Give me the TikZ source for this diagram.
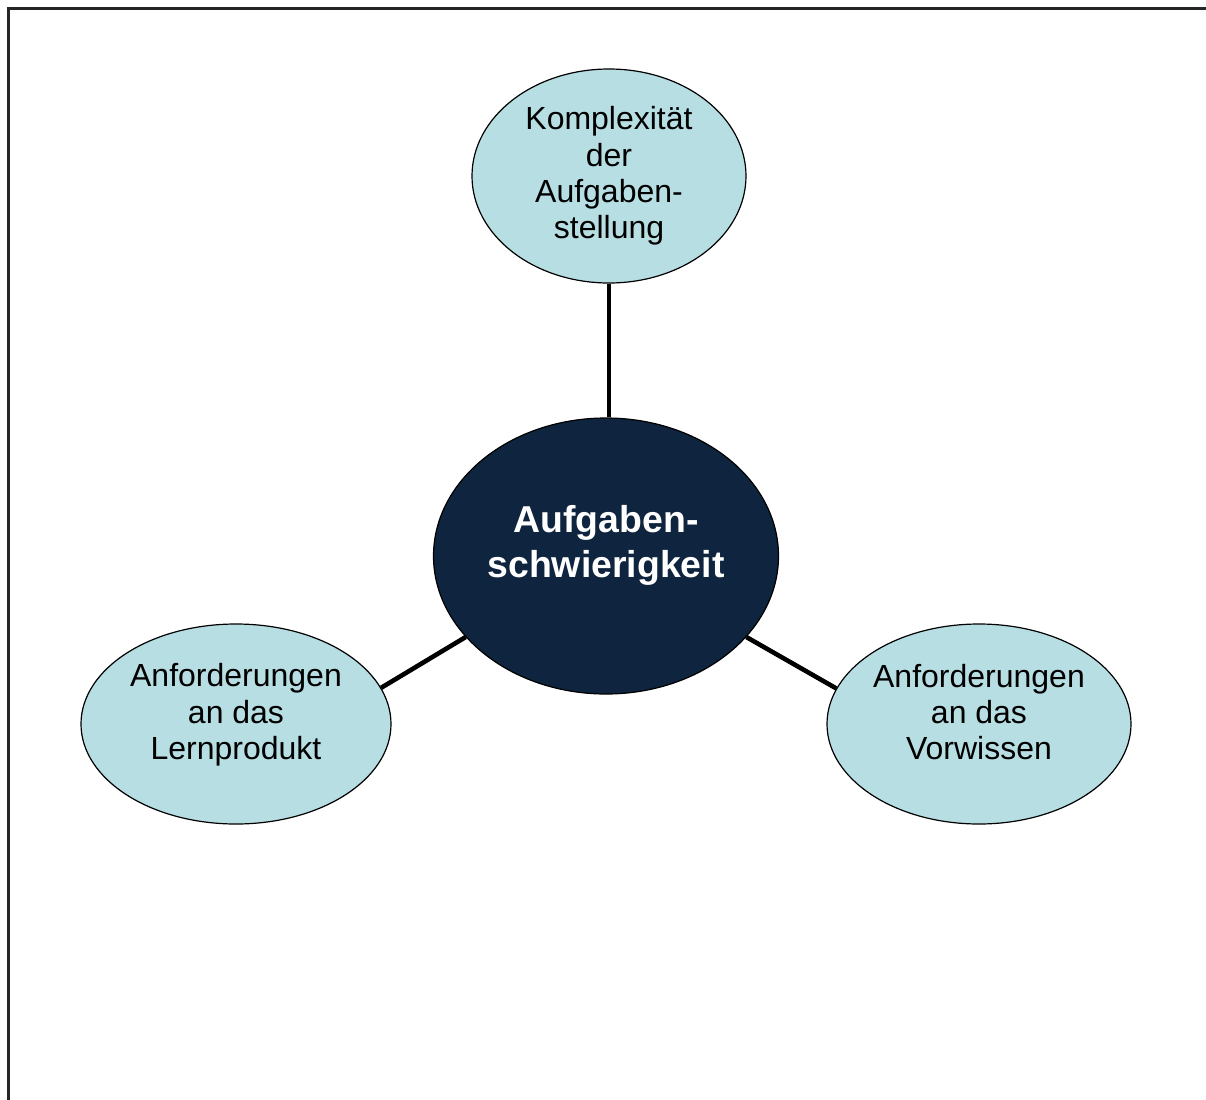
\documentclass[tikz,border=0pt]{standalone}
\usepackage{fontspec}
\setmainfont{Liberation Sans}
\usetikzlibrary{shapes.geometric}
\definecolor{bubblefill}{HTML}{B7DEE3}
\definecolor{coredark}{HTML}{0F243E}

\begin{document}
\begin{tikzpicture}[x=0.5pt,y=-0.5pt,
  bubble/.style={ellipse,draw=black,line width=0.6pt,fill=bubblefill,inner sep=0pt},
  bubbletext/.style={align=center,font=\fontsize{16}{18.2}\selectfont},
  spoke/.style={line width=2.3pt}]
\useasboundingbox (0,0) rectangle (1206,1099);
\draw[line width=1.5pt,black!85] (8.5,1110) -- (8.5,8.5) -- (1215,8.5);
% bubbles
\node[bubble,minimum width=137pt,minimum height=107pt] (task) at (609,176) {};
\node[bubble,minimum width=155pt,minimum height=100pt] (product) at (236,724) {};
\node[bubble,minimum width=152pt,minimum height=100pt] (prior) at (979,724) {};
\node[ellipse,draw=black,line width=0.6pt,fill=coredark,minimum width=172.5pt,minimum height=138pt] (core) at (606,556) {};
% spokes
\draw[spoke] (task.south) -- (task.south |- core.north);
\draw[spoke] (core.210) -- (product.14);
\draw[spoke] (core.-30) -- (prior.166);
% labels
\node[bubbletext] (tasklabel) at (609,176) {Komplexität\\der\\Aufgaben-\\stellung};
\node[bubbletext] (productlabel) at (236,715) {Anforderungen\\an das\\Lernprodukt};
\node[bubbletext] (priorlabel) at (979,712) {Anforderungen\\an das\\Vorwissen};
\node[align=center,text=white,font=\bfseries\fontsize{18.7}{22.5}\selectfont] (corelabel) at (606,545) {Aufgaben-\\schwierigkeit};
\end{tikzpicture}
\end{document}
